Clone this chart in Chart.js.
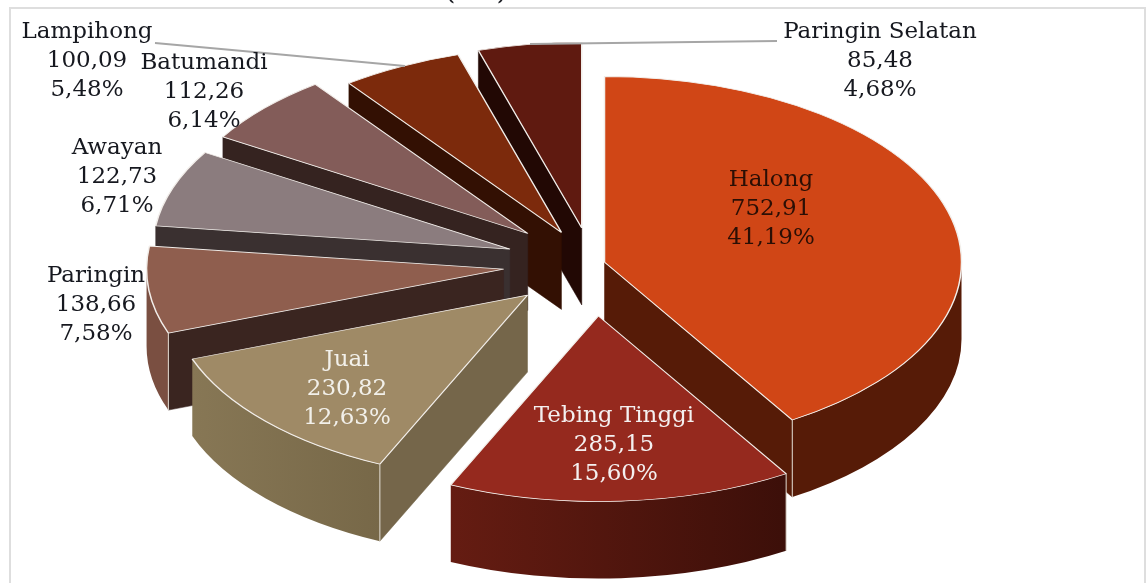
<!DOCTYPE html>
<html>
<head>
<meta charset="utf-8">
<title>Luas wilayah</title>
<script src="https://cdn.jsdelivr.net/npm/chart.js@4/dist/chart.umd.min.js"></script>
<style>
  html, body { margin: 0; background: #fff; }
  canvas { display: block; }
</style>
</head>
<body>
<canvas id="chart" width="1147" height="583"></canvas>
<script>
const districts = ["Halong", "Tebing Tinggi", "Juai", "Paringin", "Awayan", "Batumandi", "Lampihong", "Paringin Selatan"];
const areas = [752.91, 285.15, 230.82, 138.66, 122.73, 112.26, 100.09, 85.48];

const topColors = ["#d04616", "#95291e", "#9f8a66", "#8f5e4e", "#8b7c7e", "#835c59", "#7c2a0c", "#5f1a10"];
const rimColors = [["#561b07", "#561b07"], ["#651c12", "#3c0f09"], ["#877755", "#776848"], ["#7a4f41", "#7a4f41"],
  ["#3a3030", "#3a3030"], ["#352320", "#352320"], ["#331003", "#331003"], ["#220804", "#220804"]];
const faceColors = ["#561b07", "#3c0f09", "#75664a", "#3a2520", "#3a3030", "#352320", "#331003", "#220804"];
// how far each slice is pulled out, in pixels along its middle angle
const explode = [13, 100, 88, 89, 87, 87, 68, 70];

// label centres and text colour, one per district
const labelX = [771, 614, 347, 96, 117, 204, 87, 880];
const labelY = [180, 416, 360, 276, 148, 63, 32, 32];
const labelColors = ["#2b0f05", "#f4f0f0", "#f2f0ea", "#16181f", "#16181f", "#16181f", "#16181f", "#16181f"];
const leaders = [[[155, 43], [232, 50], [405, 66]], [[777, 41], [530, 44]]];

const RADIUS = 357;
const SQUASH = 0.52;
const DEPTH = 77;
const CENTER_Y = 264;
const LINE_HEIGHT = 29;
const FONT = '23px "DejaVu Serif"';

const total = areas.reduce((a, b) => a + b, 0);
const comma = (v, d) => v.toFixed(d).replace(".", ",");
const midAngle = (arc) => (arc.startAngle + arc.endAngle) / 2;

const pieDepth = {
  id: "pieDepth",
  // the offset option also swells small arcs, so pull the slices out by moving their centres
  afterDatasetsUpdate(chart) {
    chart.getDatasetMeta(0).data.forEach((arc, i) => {
      arc.x += Math.cos(midAngle(arc)) * explode[i];
      arc.y += Math.sin(midAngle(arc)) * explode[i];
    });
  },
  beforeDatasetsDraw(chart) {
    const ctx = chart.ctx;
    const arcs = chart.getDatasetMeta(0).data;
    const order = arcs.map((a, i) => i).sort((p, q) => Math.sin(midAngle(arcs[p])) - Math.sin(midAngle(arcs[q])));
    order.forEach((i) => drawWalls(ctx, arcs[i], i));
    ctx.save();
    ctx.translate(0, CENTER_Y);
    ctx.scale(1, SQUASH);
    ctx.translate(0, -CENTER_Y);
  },
  afterDatasetsDraw(chart) {
    const ctx = chart.ctx;
    ctx.restore();
    drawLeaders(ctx);
    drawLabels(ctx);
  },
};

// side walls of one slice: the visible radial face, then the outer rim
function drawWalls(ctx, arc, i) {
  const ax = arc.x;
  const ay = CENTER_Y + (arc.y - CENTER_Y) * SQUASH;
  const edge = (a) => [ax + RADIUS * Math.cos(a), ay + RADIUS * SQUASH * Math.sin(a)];

  ctx.save();
  [arc.startAngle, arc.endAngle].forEach((a, n) => {
    const faces = n === 0 ? Math.cos(a) < -1e-6 : Math.cos(a) > 1e-6;
    if (!faces) return;
    const [ex, ey] = edge(a);
    ctx.beginPath();
    ctx.moveTo(ax, ay);
    ctx.lineTo(ex, ey);
    ctx.lineTo(ex, ey + DEPTH);
    ctx.lineTo(ax, ay + DEPTH);
    ctx.closePath();
    ctx.fillStyle = faceColors[i];
    ctx.fill();
    ctx.strokeStyle = faceColors[i];
    ctx.lineWidth = 0.5;
    ctx.stroke();
  });

  const from = Math.max(arc.startAngle, 0);
  const to = Math.min(arc.endAngle, Math.PI);
  if (to > from) {
    const [x0, y0] = edge(from);
    const [x1, y1] = edge(to);
    const grad = ctx.createLinearGradient(Math.min(x0, x1), 0, Math.max(x0, x1), 0);
    grad.addColorStop(0, rimColors[i][0]);
    grad.addColorStop(1, rimColors[i][1]);
    ctx.beginPath();
    ctx.ellipse(ax, ay, RADIUS, RADIUS * SQUASH, 0, from, to);
    ctx.lineTo(x1, y1 + DEPTH);
    ctx.ellipse(ax, ay + DEPTH, RADIUS, RADIUS * SQUASH, 0, to, from, true);
    ctx.closePath();
    ctx.fillStyle = grad;
    ctx.fill();

    // pale corner where rim meets the radial face
    const corner = arc.startAngle > 0 && from === arc.startAngle ? [x0, y0] : arc.endAngle < Math.PI && to === arc.endAngle ? [x1, y1] : null;
    if (corner) {
      ctx.beginPath();
      ctx.moveTo(corner[0], corner[1]);
      ctx.lineTo(corner[0], corner[1] + DEPTH);
      ctx.strokeStyle = "#e2dcd2";
      ctx.lineWidth = 1;
      ctx.stroke();
    }
  }
  ctx.restore();
}

function drawLeaders(ctx) {
  ctx.save();
  ctx.strokeStyle = "#a6a6a6";
  ctx.lineWidth = 2;
  leaders.forEach((pts) => {
    ctx.beginPath();
    pts.forEach(([x, y], n) => (n ? ctx.lineTo(x, y) : ctx.moveTo(x, y)));
    ctx.stroke();
  });
  ctx.restore();
}

function drawLabels(ctx) {
  ctx.save();
  ctx.font = FONT;
  ctx.textAlign = "center";
  ctx.textBaseline = "middle";
  districts.forEach((name, i) => {
    const lines = [name, comma(areas[i], 2), comma((areas[i] / total) * 100, 2) + "%"];
    ctx.fillStyle = labelColors[i];
    lines.forEach((t, n) => ctx.fillText(t, labelX[i], labelY[i] + n * LINE_HEIGHT));
  });
  ctx.restore();
}

// thin frame of the chart box and the tail of the heading above it
const chartFrame = {
  id: "chartFrame",
  beforeDraw(chart) {
    const ctx = chart.ctx;
    ctx.save();
    ctx.fillStyle = "#fff";
    ctx.fillRect(0, 0, chart.width, chart.height);
    ctx.strokeStyle = "#dedede";
    ctx.lineWidth = 2;
    ctx.beginPath();
    ctx.moveTo(10, 583);
    ctx.lineTo(10, 8);
    ctx.lineTo(1145, 8);
    ctx.lineTo(1145, 583);
    ctx.stroke();
    ctx.font = '28px "DejaVu Serif"';
    ctx.fillStyle = "#16181f";
    ctx.textAlign = "center";
    ctx.textBaseline = "alphabetic";
    ctx.fillText("(Ha)", 476, -1);
    ctx.restore();
  },
};

new Chart(document.getElementById("chart"), {
  type: "pie",
  data: {
    labels: districts,
    datasets: [{
      data: areas,
      backgroundColor: topColors,
      borderColor: "#f2eeea",
      borderWidth: 1.5,
      hoverOffset: 0,
      clip: false,
    }],
  },
  options: {
    responsive: false,
    animation: false,
    radius: RADIUS,
    // puts the pie centre at x 592, y 264 on the 1147x583 canvas
    layout: { padding: { left: 37, right: 0, top: 0, bottom: 55 } },
    plugins: { legend: { display: false }, tooltip: { enabled: false } },
    events: [],
  },
  plugins: [chartFrame, pieDepth],
});
</script>
</body>
</html>
